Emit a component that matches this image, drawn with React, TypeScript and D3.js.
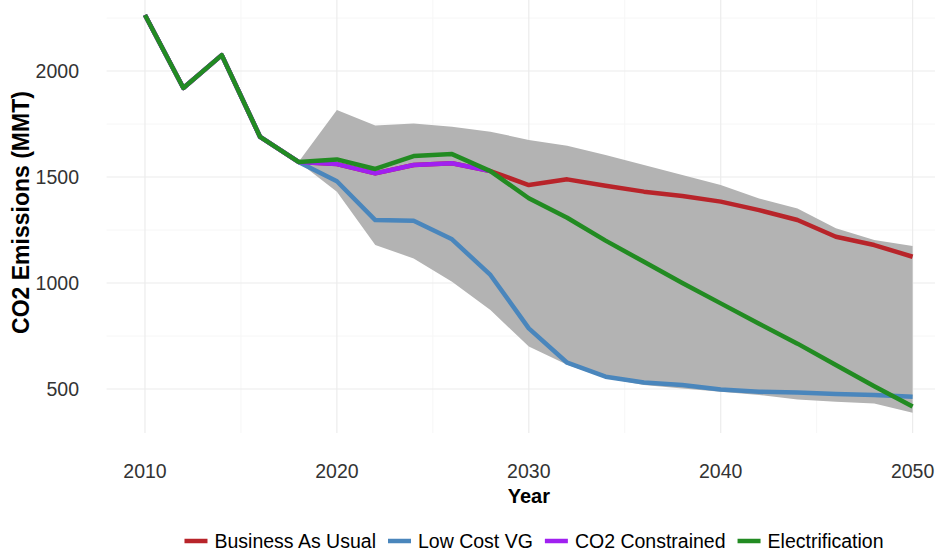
import React, { useEffect, useRef } from "react";
import * as d3 from "d3";

// Historical emissions shared by every scenario (2010–2018)
const historyYears = [2010, 2012, 2014, 2016, 2018];
const historyValues = [2264, 1920, 2075, 1689, 1571];

// Projection years
const projYears = [2020, 2022, 2024, 2026, 2028, 2030, 2032, 2034, 2036, 2038, 2040, 2042, 2044, 2046, 2048, 2050];

const businessAsUsual = [1561, 1517, 1557, 1565, 1528, 1462, 1489, 1459, 1431, 1410, 1384, 1344, 1297, 1218, 1179, 1124];
const lowCostVG = [1480, 1297, 1294, 1206, 1038, 786, 624, 558, 531, 519, 498, 487, 483, 476, 472, 464];
const co2ConstrainedYears = [2020, 2022, 2024, 2026, 2028];
const co2Constrained = [1561, 1517, 1557, 1565, 1528];
const electrification = [1583, 1538, 1599, 1608, 1528, 1400, 1308, 1200, 1100, 1000, 904, 808, 714, 613, 513, 417];

// Range across all model runs
const rangeYears = [2018, ...projYears];
const rangeUpper = [1571, 1816, 1743, 1753, 1737, 1714, 1675, 1647, 1604, 1557, 1509, 1462, 1399, 1352, 1258, 1203, 1175];
const rangeLower = [1571, 1430, 1179, 1116, 1006, 873, 700, 615, 552, 519, 503, 487, 472, 451, 440, 432, 388];

const seriesNames = ["Business As Usual", "Low Cost VG", "CO2 Constrained", "Electrification"];
const seriesColors = ["#B8242A", "#4A86BC", "#A020F0", "#228B22"];

const xTicks = [2010, 2020, 2030, 2040, 2050];
const xMinor = [2015, 2025, 2035, 2045];
const yTicks = [500, 1000, 1500, 2000];
const yMinor = [750, 1250, 1750, 2250];

const W = 935;
const H = 552;
const FONT = "'Liberation Sans', Arial, sans-serif";

type Pt = { year: number; value: number };

function zip(years: number[], values: number[]): Pt[] {
  return years.map((y, i) => ({ year: y, value: values[i] }));
}

export default function App() {
  const ref = useRef<SVGSVGElement>(null);

  useEffect(() => {
    document.body.style.margin = "0";
    const svg = d3.select(ref.current!);
    svg.selectAll("*").remove();

    const x = d3.scaleLinear().domain([2008, 2052]).range([106.6, 951]);
    const y = d3.scaleLinear().domain([292.5, 2335]).range([433, 0]);

    const panel = svg.append("g");

    // grid
    panel.selectAll("line.ymin").data(yMinor).join("line")
      .attr("x1", x(2008)).attr("x2", x(2052))
      .attr("y1", (d) => y(d)).attr("y2", (d) => y(d))
      .attr("stroke", "#f6f6f6").attr("stroke-width", 1);
    panel.selectAll("line.xmin").data(xMinor).join("line")
      .attr("y1", y(292.5)).attr("y2", y(2335))
      .attr("x1", (d) => x(d)).attr("x2", (d) => x(d))
      .attr("stroke", "#f6f6f6").attr("stroke-width", 1);
    panel.selectAll("line.ymaj").data(yTicks).join("line")
      .attr("x1", x(2008)).attr("x2", x(2052))
      .attr("y1", (d) => y(d)).attr("y2", (d) => y(d))
      .attr("stroke", "#ececec").attr("stroke-width", 1.2);
    panel.selectAll("line.xmaj").data(xTicks).join("line")
      .attr("y1", y(292.5)).attr("y2", y(2335))
      .attr("x1", (d) => x(d)).attr("x2", (d) => x(d))
      .attr("stroke", "#ececec").attr("stroke-width", 1.2);

    // ribbon
    const band = rangeYears.map((yr, i) => ({ year: yr, lo: rangeLower[i], hi: rangeUpper[i] }));
    const area = d3.area<{ year: number; lo: number; hi: number }>()
      .x((d) => x(d.year)).y0((d) => y(d.lo)).y1((d) => y(d.hi));
    panel.append("path").attr("d", area(band)!).attr("fill", "#b3b3b3");

    // lines
    const history = zip(historyYears, historyValues);
    const series: Pt[][] = [
      [...history, ...zip(projYears, businessAsUsual)],
      [...history, ...zip(projYears, lowCostVG)],
      [...history, ...zip(co2ConstrainedYears, co2Constrained)],
      [...history, ...zip(projYears, electrification)],
    ];
    const line = d3.line<Pt>().x((d) => x(d.year)).y((d) => y(d.value));
    series.forEach((s, i) => {
      panel.append("path").attr("d", line(s)!)
        .attr("fill", "none").attr("stroke", seriesColors[i])
        .attr("stroke-width", 4.5).attr("stroke-linejoin", "round");
    });

    // axis labels
    svg.selectAll("text.yt").data(yTicks).join("text")
      .attr("x", 79).attr("y", (d) => y(d) + 7)
      .attr("text-anchor", "end").attr("font-family", FONT).attr("font-size", 19.5)
      .attr("fill", "#333").text((d) => String(d));
    svg.selectAll("text.xt").data(xTicks).join("text")
      .attr("x", (d) => x(d)).attr("y", 478)
      .attr("text-anchor", "middle").attr("font-family", FONT).attr("font-size", 19.5)
      .attr("fill", "#333").text((d) => String(d));

    svg.append("text").attr("x", x(2030)).attr("y", 503)
      .attr("text-anchor", "middle").attr("font-family", FONT).attr("font-size", 20)
      .attr("font-weight", "bold").attr("fill", "#000").text("Year");
    svg.append("text").attr("transform", `translate(29,212.5) rotate(-90)`)
      .attr("text-anchor", "middle").attr("font-family", FONT).attr("font-size", 23)
      .attr("font-weight", "bold").attr("fill", "#000").text("CO2 Emissions (MMT)");

    // legend
    const lg = svg.append("g");
    const keyW = 23, keyGap = 7, itemGap = 12;
    let cx = 0;
    seriesNames.forEach((name, i) => {
      lg.append("line").attr("x1", cx).attr("x2", cx + keyW).attr("y1", 541).attr("y2", 541)
        .attr("stroke", seriesColors[i]).attr("stroke-width", 4.5);
      const t = lg.append("text").attr("x", cx + keyW + keyGap).attr("y", 547.5)
        .attr("font-family", FONT).attr("font-size", 19.5).attr("fill", "#000").text(name);
      const w = (t.node() as SVGTextElement).getComputedTextLength();
      cx += keyW + keyGap + w + itemGap;
    });
    const total = cx - itemGap;
    lg.attr("transform", `translate(${534 - total / 2},0)`);
  }, []);

  return <svg ref={ref} width={W} height={H} style={{ display: "block", background: "#fff" }} />;
}
